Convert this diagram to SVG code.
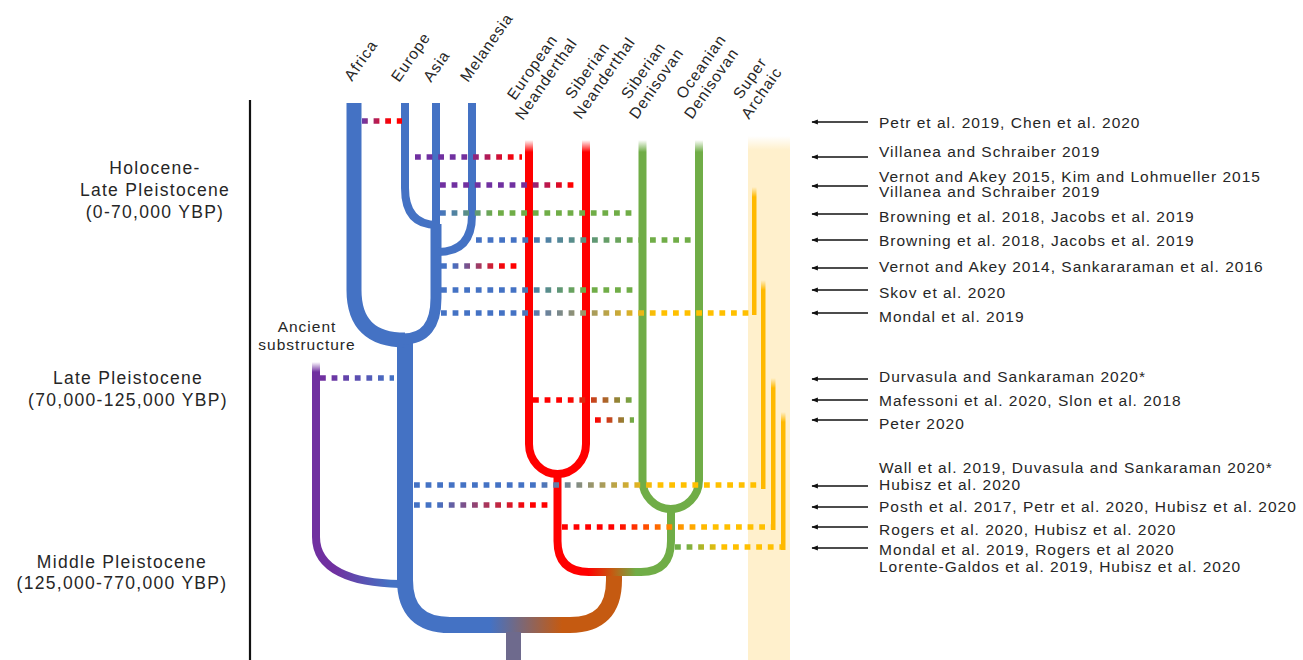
<svg xmlns="http://www.w3.org/2000/svg" width="1303" height="660" viewBox="0 0 1303 660">
<style>
.lbl{font-family:"Liberation Sans",Arial,sans-serif;fill:#262626;}
.top{font-size:15.5px;letter-spacing:1px;}
.ref{font-size:15.5px;letter-spacing:1px;}
.per{font-size:17.5px;letter-spacing:1.3px;text-anchor:middle;}
.br{fill:none;stroke-linecap:butt;stroke-linejoin:round;}
.dot{fill:none;stroke-width:5.5;stroke-dasharray:5.8 5.8;}
.arr{stroke:#111;stroke-width:1.3;fill:none;marker-end:url(#ah);}
</style>
<defs>
<marker id="ah" viewBox="0 0 10 10" refX="9" refY="5" markerWidth="5" markerHeight="5" orient="auto"><path d="M0,1 L10,5 L0,9 z" fill="#111"/></marker>
<linearGradient id="fR" x1="0" y1="0" x2="0" y2="1"><stop offset="0" stop-color="#ff0000" stop-opacity="0"/><stop offset="1" stop-color="#ff0000"/></linearGradient>
<linearGradient id="fG" x1="0" y1="0" x2="0" y2="1"><stop offset="0" stop-color="#70ad47" stop-opacity="0"/><stop offset="1" stop-color="#70ad47"/></linearGradient>
<linearGradient id="fP" x1="0" y1="0" x2="0" y2="1"><stop offset="0" stop-color="#7030a0" stop-opacity="0"/><stop offset="1" stop-color="#7030a0"/></linearGradient>
<linearGradient id="fY" x1="0" y1="0" x2="0" y2="1"><stop offset="0" stop-color="#ffb900" stop-opacity="0"/><stop offset="1" stop-color="#ffb900"/></linearGradient>
<linearGradient id="fPale" x1="0" y1="0" x2="0" y2="1"><stop offset="0" stop-color="#fff0cc" stop-opacity="0"/><stop offset="1" stop-color="#fff0cc"/></linearGradient>
<linearGradient id="gStem" gradientUnits="userSpaceOnUse" x1="490" y1="0" x2="562" y2="0"><stop offset="0" stop-color="#4472c4"/><stop offset="1" stop-color="#c55a11"/></linearGradient>
<linearGradient id="gRG" gradientUnits="userSpaceOnUse" x1="588" y1="0" x2="636" y2="0"><stop offset="0" stop-color="#ff0000"/><stop offset="0.5" stop-color="#c55a11"/><stop offset="1" stop-color="#70ad47"/></linearGradient>
<linearGradient id="gAnc" gradientUnits="userSpaceOnUse" x1="335" y1="0" x2="390" y2="0"><stop offset="0" stop-color="#7030a0"/><stop offset="1" stop-color="#4472c4"/></linearGradient>
<linearGradient id="d1" gradientUnits="userSpaceOnUse" x1="362" y1="0" x2="402" y2="0"><stop offset="0" stop-color="#6a3aa8"/><stop offset="0.7" stop-color="#ff0000"/></linearGradient>
<linearGradient id="d2" gradientUnits="userSpaceOnUse" x1="415" y1="0" x2="522" y2="0"><stop offset="0" stop-color="#7030a0"/><stop offset="0.45" stop-color="#7030a0"/><stop offset="0.95" stop-color="#ff0000"/></linearGradient>
<linearGradient id="d3" gradientUnits="userSpaceOnUse" x1="438" y1="0" x2="577" y2="0"><stop offset="0" stop-color="#7030a0"/><stop offset="0.6" stop-color="#7030a0"/><stop offset="0.95" stop-color="#ff0000"/></linearGradient>
<linearGradient id="d4" gradientUnits="userSpaceOnUse" x1="438" y1="0" x2="633" y2="0"><stop offset="0" stop-color="#4472c4"/><stop offset="0.3" stop-color="#70ad47"/></linearGradient>
<linearGradient id="d5" gradientUnits="userSpaceOnUse" x1="473" y1="0" x2="692" y2="0"><stop offset="0" stop-color="#4472c4"/><stop offset="0.2" stop-color="#4472c4"/><stop offset="0.75" stop-color="#70ad47"/></linearGradient>
<linearGradient id="d6" gradientUnits="userSpaceOnUse" x1="440" y1="0" x2="522" y2="0"><stop offset="0" stop-color="#4472c4"/><stop offset="0.15" stop-color="#4472c4"/><stop offset="0.8" stop-color="#ff0000"/></linearGradient>
<linearGradient id="d7" gradientUnits="userSpaceOnUse" x1="440" y1="0" x2="633" y2="0"><stop offset="0" stop-color="#4472c4"/><stop offset="0.4" stop-color="#4472c4"/><stop offset="0.75" stop-color="#70ad47"/></linearGradient>
<linearGradient id="d8" gradientUnits="userSpaceOnUse" x1="440" y1="0" x2="752" y2="0"><stop offset="0" stop-color="#4472c4"/><stop offset="0.25" stop-color="#4472c4"/><stop offset="0.7" stop-color="#ffc000"/></linearGradient>
<linearGradient id="d9" gradientUnits="userSpaceOnUse" x1="327" y1="0" x2="392" y2="0"><stop offset="0" stop-color="#7030a0"/><stop offset="1" stop-color="#4472c4"/></linearGradient>
<linearGradient id="d10" gradientUnits="userSpaceOnUse" x1="533" y1="0" x2="633" y2="0"><stop offset="0" stop-color="#ff0000"/><stop offset="0.35" stop-color="#ff0000"/><stop offset="1" stop-color="#70ad47"/></linearGradient>
<linearGradient id="d11" gradientUnits="userSpaceOnUse" x1="595" y1="0" x2="633" y2="0"><stop offset="0" stop-color="#ff0000"/><stop offset="1" stop-color="#70ad47"/></linearGradient>
<linearGradient id="d12" gradientUnits="userSpaceOnUse" x1="417" y1="0" x2="761" y2="0"><stop offset="0" stop-color="#4472c4"/><stop offset="0.35" stop-color="#4472c4"/><stop offset="0.7" stop-color="#ffc000"/></linearGradient>
<linearGradient id="d13" gradientUnits="userSpaceOnUse" x1="417" y1="0" x2="549" y2="0"><stop offset="0" stop-color="#4472c4"/><stop offset="0.15" stop-color="#4472c4"/><stop offset="0.85" stop-color="#ff0000"/></linearGradient>
<linearGradient id="d14" gradientUnits="userSpaceOnUse" x1="562" y1="0" x2="771" y2="0"><stop offset="0" stop-color="#ff0000"/><stop offset="0.25" stop-color="#ff0000"/><stop offset="0.5" stop-color="#ff8000"/><stop offset="0.7" stop-color="#ffc000"/></linearGradient>
<linearGradient id="d15" gradientUnits="userSpaceOnUse" x1="675" y1="0" x2="781" y2="0"><stop offset="0" stop-color="#70ad47"/><stop offset="0.1" stop-color="#70ad47"/><stop offset="0.45" stop-color="#ffc000"/></linearGradient>
</defs>
<rect width="1303" height="660" fill="#fff"/>

<line x1="250" y1="100" x2="250" y2="660" stroke="#111" stroke-width="2.2"/>

<g id="super-archaic">
<rect x="748" y="136" width="42" height="14" fill="url(#fPale)"/>
<rect x="748" y="150" width="42" height="510" fill="#fff0cc"/>
<rect x="752" y="187" width="4.5" height="10" fill="url(#fY)"/>
<rect x="752" y="197" width="4.5" height="118" fill="#ffb900"/>
<rect x="761" y="280" width="4.5" height="10" fill="url(#fY)"/>
<rect x="761" y="290" width="4.5" height="199" fill="#ffb900"/>
<rect x="771" y="378" width="4.5" height="10" fill="url(#fY)"/>
<rect x="771" y="388" width="4.5" height="142" fill="#ffb900"/>
<rect x="781" y="412" width="4.5" height="10" fill="url(#fY)"/>
<rect x="781" y="422" width="4.5" height="128" fill="#ffb900"/>
</g>

<g id="ancient-substructure">
<rect x="312" y="362" width="8" height="10" fill="url(#fP)"/>
<path class="br" d="M316,372 V537 C316,570 352,583 400,584" stroke="url(#gAnc)" stroke-width="8"/>
</g>

<g id="archaic-root">
<path class="br" d="M405,334 V580 Q405,625 450,625 H570 Q614,625 614,580 V568" stroke="url(#gStem)" stroke-width="16"/>
<rect x="506" y="632" width="15" height="28" fill="#6e6a8d"/>
</g>

<g id="modern-humans">
<path class="br" d="M354,103 V290 Q354,340 405,340" stroke="#4472c4" stroke-width="15"/>
<path class="br" d="M405,103 V188 Q405,225 437,225" stroke="#4472c4" stroke-width="8"/>
<path class="br" d="M436,103 V228" stroke="#4472c4" stroke-width="8"/>
<path class="br" d="M436,224 V298 Q436,339 403,339" stroke="#4472c4" stroke-width="11"/>
<path class="br" d="M472,103 V215 Q472,252 438,252" stroke="#4472c4" stroke-width="8"/>
</g>

<g id="neanderthals">
<rect x="525" y="140" width="8" height="12" fill="url(#fR)"/>
<rect x="582" y="140" width="8" height="12" fill="url(#fR)"/>
<path class="br" d="M529,152 V444 A28.5,30 0 0 0 586,444 V152" stroke="#ff0000" stroke-width="8"/>
</g>

<g id="denisovans">
<rect x="638.5" y="140" width="8" height="12" fill="url(#fG)"/>
<rect x="695" y="140" width="8" height="12" fill="url(#fG)"/>
<path class="br" d="M642.5,152 V480 A28.25,29 0 0 0 699,480 V152" stroke="#70ad47" stroke-width="8"/>
</g>

<g id="neanderthal-denisovan-ancestor">
<path class="br" d="M557.5,473 V541 Q557.5,572 589,572 H641 Q671,572 671,541 V508" stroke="url(#gRG)" stroke-width="8"/>
</g>

<g id="connectors">
<path class="dot" d="M362,121 H402" stroke="url(#d1)"/>
<path class="dot" d="M415,157 H522" stroke="url(#d2)"/>
<path class="dot" d="M440,185 H577" stroke="url(#d3)"/>
<path class="dot" d="M440,213 H633" stroke="url(#d4)"/>
<path class="dot" d="M476,240 H692" stroke="url(#d5)"/>
<path class="dot" d="M441,266 H522" stroke="url(#d6)"/>
<path class="dot" d="M441,290 H633" stroke="url(#d7)"/>
<path class="dot" d="M441,313 H752" stroke="url(#d8)"/>
<path class="dot" d="M320,378 H394" stroke="url(#d9)"/>
<path class="dot" d="M533,400 H634" stroke="url(#d10)"/>
<path class="dot" d="M595,420 H634" stroke="url(#d11)"/>
<path class="dot" d="M414,485 H761" stroke="url(#d12)"/>
<path class="dot" d="M414,505 H550" stroke="url(#d13)"/>
<path class="dot" d="M562,527 H771" stroke="url(#d14)"/>
<path class="dot" d="M675,547 H781" stroke="url(#d15)"/>
<line class="arr" x1="868" y1="122" x2="812" y2="122"/>
<line class="arr" x1="868" y1="157" x2="812" y2="157"/>
<line class="arr" x1="868" y1="186" x2="812" y2="186"/>
<line class="arr" x1="868" y1="214" x2="812" y2="214"/>
<line class="arr" x1="868" y1="240" x2="812" y2="240"/>
<line class="arr" x1="868" y1="268" x2="812" y2="268"/>
<line class="arr" x1="868" y1="290" x2="812" y2="290"/>
<line class="arr" x1="868" y1="313" x2="812" y2="313"/>
<line class="arr" x1="868" y1="379" x2="812" y2="379"/>
<line class="arr" x1="868" y1="400" x2="812" y2="400"/>
<line class="arr" x1="868" y1="420" x2="812" y2="420"/>
<line class="arr" x1="868" y1="486" x2="812" y2="486"/>
<line class="arr" x1="868" y1="507" x2="812" y2="507"/>
<line class="arr" x1="868" y1="527" x2="812" y2="527"/>
<line class="arr" x1="868" y1="548" x2="812" y2="548"/>
</g>

<g id="population-labels" class="lbl top">
<text transform="translate(352,82) rotate(-55)">Africa</text>
<text transform="translate(399,83) rotate(-55)">Europe</text>
<text transform="translate(431,83) rotate(-55)">Asia</text>
<text transform="translate(468,83) rotate(-55)">Melanesia</text>
<text transform="translate(515,101) rotate(-55)">European</text>
<text transform="translate(523,121) rotate(-55)">Neanderthal</text>
<text transform="translate(573,100) rotate(-55)">Siberian</text>
<text transform="translate(581,120) rotate(-55)">Neanderthal</text>
<text transform="translate(629,100) rotate(-55)">Siberian</text>
<text transform="translate(637,120) rotate(-55)">Denisovan</text>
<text transform="translate(684,100) rotate(-55)">Oceanian</text>
<text transform="translate(692,120) rotate(-55)">Denisovan</text>
<text transform="translate(741,100) rotate(-55)">Super</text>
<text transform="translate(749,120) rotate(-55)">Archaic</text>
</g>

<g id="period-labels" class="lbl per">
<text x="155" y="174">Holocene-</text>
<text x="155" y="196">Late Pleistocene</text>
<text x="155" y="218">(0-70,000 YBP)</text>
<text x="128" y="384">Late Pleistocene</text>
<text x="128" y="406">(70,000-125,000 YBP)</text>
<text x="122" y="568">Middle Pleistocene</text>
<text x="122" y="589">(125,000-770,000 YBP)</text>
</g>

<g id="ancient-label" class="lbl ref" text-anchor="middle">
<text x="307" y="332">Ancient</text>
<text x="307" y="350">substructure</text>
</g>

<g id="references" class="lbl ref">
<text x="879" y="128">Petr et al. 2019, Chen et al. 2020</text>
<text x="879" y="157">Villanea and Schraiber 2019</text>
<text x="879" y="182">Vernot and Akey 2015, Kim and Lohmueller 2015</text>
<text x="879" y="197">Villanea and Schraiber 2019</text>
<text x="879" y="222">Browning et al. 2018, Jacobs et al. 2019</text>
<text x="879" y="246">Browning et al. 2018, Jacobs et al. 2019</text>
<text x="879" y="272">Vernot and Akey 2014, Sankararaman et al. 2016</text>
<text x="879" y="298">Skov et al. 2020</text>
<text x="879" y="322">Mondal et al. 2019</text>
<text x="879" y="382">Durvasula and Sankaraman 2020*</text>
<text x="879" y="406">Mafessoni et al. 2020, Slon et al. 2018</text>
<text x="879" y="429">Peter 2020</text>
<text x="879" y="473">Wall et al. 2019, Duvasula and Sankaraman 2020*</text>
<text x="879" y="490">Hubisz et al. 2020</text>
<text x="879" y="512">Posth et al. 2017, Petr et al. 2020, Hubisz et al. 2020</text>
<text x="879" y="535">Rogers et al. 2020, Hubisz et al. 2020</text>
<text x="879" y="555">Mondal et al. 2019, Rogers et al 2020</text>
<text x="879" y="572">Lorente-Galdos et al. 2019, Hubisz et al. 2020</text>
</g>
</svg>
